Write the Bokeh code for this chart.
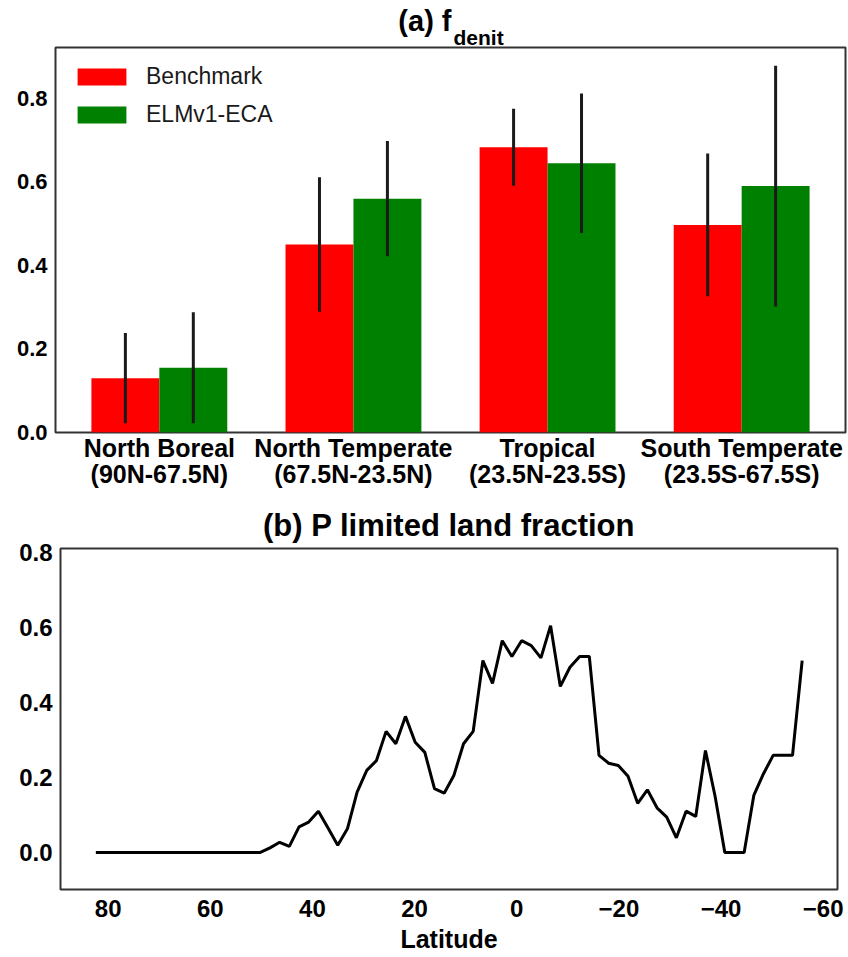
import numpy as np
from bokeh.plotting import figure
from bokeh.models import ColumnDataSource, Range1d, FixedTicker, Title
from bokeh.layouts import column, row
from bokeh.embed import file_html
from bokeh.resources import INLINE

FONT = "Liberation Sans"

# ---------------- data: panel (a) ----------------
region_names = ["North Boreal", "North Temperate", "Tropical", "South Temperate"]
region_bands = ["(90N-67.5N)", "(67.5N-23.5N)", "(23.5N-23.5S)", "(23.5S-67.5S)"]
bench_mean = [0.130, 0.450, 0.683, 0.497]
bench_std = [0.108, 0.161, 0.092, 0.171]
elm_mean = [0.155, 0.560, 0.645, 0.590]
elm_std = [0.133, 0.138, 0.167, 0.288]
y_ticks_a = [0.0, 0.2, 0.4, 0.6, 0.8]

# ---------------- data: panel (b) ----------------
latitude = [82.42, 80.53, 78.63, 76.74, 74.84, 72.95, 71.05, 69.16, 67.26, 65.37,
            63.47, 61.58, 59.68, 57.79, 55.89, 54.00, 52.11, 50.21, 48.32, 46.42,
            44.53, 42.63, 40.74, 38.84, 36.95, 35.05, 33.16, 31.26, 29.37, 27.47,
            25.58, 23.68, 21.79, 19.89, 18.00, 16.11, 14.21, 12.32, 10.42, 8.53,
            6.63, 4.74, 2.84, 0.95, -0.95, -2.84, -4.74, -6.63, -8.53, -10.42,
            -12.32, -14.21, -16.11, -18.00, -19.89, -21.79, -23.68, -25.58, -27.47, -29.37,
            -31.26, -33.16, -35.05, -36.95, -38.84, -40.74, -42.63, -44.53, -46.42, -48.32,
            -50.21, -52.11, -54.00, -55.89]
p_limited = [0.0, 0.0, 0.0, 0.0, 0.0, 0.0, 0.0, 0.0, 0.0, 0.0,
             0.0, 0.0, 0.0, 0.0, 0.0, 0.0, 0.0, 0.0, 0.012, 0.027,
             0.016, 0.068, 0.081, 0.110, 0.065, 0.019, 0.063, 0.161, 0.219, 0.245,
             0.323, 0.290, 0.363, 0.294, 0.267, 0.170, 0.158, 0.205, 0.290, 0.323,
             0.512, 0.451, 0.565, 0.523, 0.565, 0.552, 0.519, 0.605, 0.443, 0.494,
             0.523, 0.523, 0.259, 0.238, 0.232, 0.203, 0.131, 0.167, 0.119, 0.094,
             0.039, 0.110, 0.096, 0.272, 0.150, 0.0, 0.0, 0.0, 0.152, 0.210,
             0.259, 0.259, 0.259, 0.512]
x_ticks_b = [80, 60, 40, 20, 0, -20, -40, -60]
y_ticks_b = [0.0, 0.2, 0.4, 0.6, 0.8]


def style_axes(p, tick_size):
    for ax in (p.xaxis, p.yaxis):
        ax.axis_line_color = None
        ax.major_tick_line_color = None
        ax.minor_tick_line_color = None
        ax.major_tick_out = 0
        ax.major_tick_in = 0
        ax.major_label_text_font = FONT
        ax.major_label_text_font_style = "bold"
        ax.major_label_text_font_size = tick_size
        ax.major_label_text_color = "#000000"
    p.xgrid.visible = False
    p.ygrid.visible = False
    p.outline_line_color = "#333333"
    p.outline_line_width = 2
    p.background_fill_color = "white"
    p.border_fill_color = "white"


# ---------------- panel (a) ----------------
n = len(region_names)
idx = np.arange(n)
bw = 0.35
bm = np.array(bench_mean); bs = np.array(bench_std)
em = np.array(elm_mean); es = np.array(elm_std)
src_b = ColumnDataSource(dict(x=idx - bw / 2, top=bm, lo=bm - bs, hi=bm + bs))
src_e = ColumnDataSource(dict(x=idx + bw / 2, top=em, lo=em - es, hi=em + es))

ymax_a = float(np.max(em + es)) * 1.05
p1 = figure(width=848, height=498, x_range=Range1d(-0.535, n - 1 + 0.535),
            y_range=Range1d(0, ymax_a), output_backend="svg", toolbar_location=None,
            min_border_left=55, min_border_right=3, min_border_top=47, min_border_bottom=66)
style_axes(p1, "22px")
p1.vbar(x="x", top="top", width=bw, source=src_b, fill_color="#ff0000", line_color=None,
        legend_label="Benchmark")
p1.vbar(x="x", top="top", width=bw, source=src_e, fill_color="#008000", line_color=None,
        legend_label="ELMv1-ECA")
p1.segment(x0="x", y0="lo", x1="x", y1="hi", source=src_b, line_color="#1a1a1a", line_width=3)
p1.segment(x0="x", y0="lo", x1="x", y1="hi", source=src_e, line_color="#1a1a1a", line_width=3)

p1.xaxis.ticker = FixedTicker(ticks=list(idx))
p1.xaxis.major_label_overrides = {int(i): f"{a}\n{b}" for i, a, b in zip(idx, region_names, region_bands)}
p1.xaxis.major_label_text_font_size = "25px"
p1.xaxis.major_label_text_line_height = 0.95
p1.xaxis.major_label_standoff = 1
p1.yaxis.ticker = FixedTicker(ticks=y_ticks_a)
p1.yaxis.major_label_overrides = {t: f"{t:.1f}" for t in y_ticks_a}
p1.yaxis.major_label_standoff = 8

lg = p1.legend[0]
lg.location = "top_left"
lg.label_text_font = FONT
lg.label_text_font_size = "23px"
lg.label_text_color = "#1a1a1a"
lg.glyph_width = 61
lg.glyph_height = 21
lg.label_standoff = 14
lg.spacing = 11
lg.padding = 9
lg.margin = 7
lg.border_line_alpha = 0
lg.background_fill_alpha = 0

# title "(a) f" with subscript "denit" (two title panels, inner = subscript)
p1.add_layout(Title(text="denit", align="left", offset=398, standoff=-2,
                    text_font=FONT, text_font_style="bold", text_font_size="21px",
                    text_color="#000000"), "above")
p1.add_layout(Title(text="(a) f", align="right", offset=394, standoff=-25,
                    text_font=FONT, text_font_style="bold", text_font_size="29px",
                    text_color="#000000"), "above")

# ---------------- panel (b) ----------------
p2 = figure(width=848, height=459, x_range=Range1d(89.34, -62.81), y_range=Range1d(-0.099, 0.811),
            output_backend="svg", toolbar_location=None,
            min_border_left=60, min_border_right=11, min_border_top=50, min_border_bottom=68,
            title="(b) P limited land fraction")
style_axes(p2, "24px")
p2.title.align = "center"
p2.title.text_font = FONT
p2.title.text_font_style = "bold"
p2.title.text_font_size = "31px"
p2.title.text_color = "#000000"
p2.title.standoff = 12
p2.line(x=latitude, y=p_limited, line_color="#000000", line_width=3)
p2.xaxis.ticker = FixedTicker(ticks=x_ticks_b)
p2.xaxis.major_label_overrides = {t: (f"\u2212{abs(t)}" if t < 0 else f"{t}") for t in x_ticks_b}
p2.xaxis.major_label_standoff = 10
p2.xaxis.axis_label = "Latitude"
p2.xaxis.axis_label_text_font = FONT
p2.xaxis.axis_label_text_font_style = "bold"
p2.xaxis.axis_label_text_font_size = "25px"
p2.xaxis.axis_label_text_color = "#000000"
p2.xaxis.axis_label_standoff = 5
p2.yaxis.ticker = FixedTicker(ticks=y_ticks_b)
p2.yaxis.major_label_overrides = {t: f"{t:.1f}" for t in y_ticks_b}
p2.yaxis.major_label_standoff = 8

layout = column(row(p1), row(p2))
open("out.html", "w").write(file_html(layout, INLINE))
